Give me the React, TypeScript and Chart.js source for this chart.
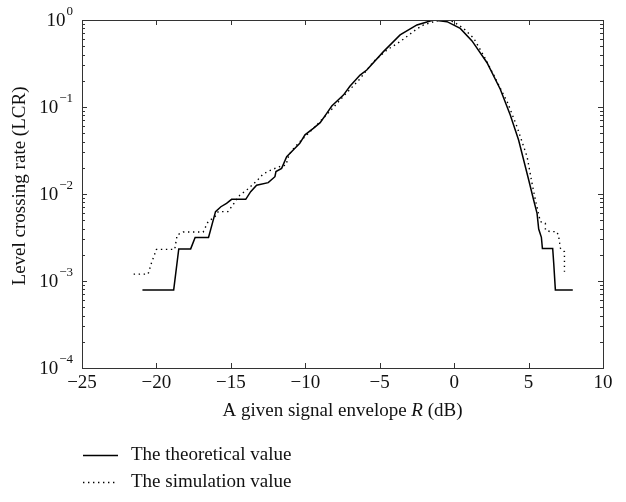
import React, { useEffect, useRef } from "react";
import { Chart, registerables } from "chart.js";

Chart.register(...registerables);

// Theoretical value (solid)
const theoX = [-20.94, -18.84, -18.5, -17.7, -17.4, -16.5, -16.03, -15.67, -15.29, -14.95, -14.0, -13.67, -13.27, -12.49, -12.04, -11.97, -11.59, -11.25, -10.81, -10.37, -10.02, -9.46, -9.0, -8.56, -8.22, -7.44, -6.99, -6.32, -5.87, -4.75, -3.63, -2.5, -1.39, -0.48, 0.41, 1.2, 2.2, 3.1, 3.77, 4.33, 4.67, 5.01, 5.34, 5.57, 5.68, 5.86, 5.93, 6.62, 6.69, 6.8, 7.97];
const theoY = [0.00079, 0.00079, 0.00234, 0.00234, 0.00316, 0.00316, 0.00627, 0.00714, 0.00782, 0.00869, 0.00869, 0.01064, 0.0126, 0.0135, 0.0158, 0.0181, 0.0197, 0.0269, 0.0321, 0.0382, 0.0479, 0.0569, 0.066, 0.0845, 0.1026, 0.137, 0.174, 0.233, 0.266, 0.433, 0.673, 0.877, 1.0, 0.957, 0.8, 0.575, 0.325, 0.16, 0.081, 0.0418, 0.0246, 0.0145, 0.00853, 0.006, 0.00396, 0.00318, 0.00236, 0.00236, 0.0016, 0.00079, 0.00079];

// Simulation value (dotted)
const simX = [-21.53, -20.56, -20.34, -20.0, -18.77, -18.61, -18.2, -16.86, -16.53, -16.07, -15.85, -15.2, -14.95, -14.39, -13.94, -13.27, -12.83, -12.38, -11.82, -11.3, -11.1, -10.69, -10.13, -9.23, -8.3, -7.4, -6.4, -5.42, -4.52, -3.63, -2.5, -2.06, -1.2, -0.6, -0.04, 0.63, 1.31, 1.98, 2.65, 3.32, 3.55, 4.22, 4.9, 5.23, 5.46, 5.79, 6.13, 6.13, 6.46, 6.91, 7.02, 7.14, 7.41, 7.41];
const simY = [0.0012, 0.0012, 0.0016, 0.00231, 0.00231, 0.00338, 0.00366, 0.00366, 0.00481, 0.00548, 0.00627, 0.00627, 0.00714, 0.00975, 0.0111, 0.0141, 0.017, 0.0186, 0.0204, 0.0215, 0.0282, 0.035, 0.0437, 0.0621, 0.0912, 0.135, 0.204, 0.332, 0.452, 0.564, 0.79, 0.877, 0.977, 1.0, 0.957, 0.8, 0.62, 0.39, 0.235, 0.138, 0.117, 0.0594, 0.0269, 0.0133, 0.00853, 0.00481, 0.0046, 0.00385, 0.00369, 0.00369, 0.00324, 0.00238, 0.00217, 0.00128];

const xTicks = [-25, -20, -15, -10, -5, 0, 5, 10];
const yDecades = [0, -1, -2, -3, -4];
const seriesNames = ["The theoretical value", "The simulation value"];
const xTitleParts = ["A given signal envelope ", "R", " (dB)"];
const yTitle = "Level crossing rate (LCR)";

const FONT = '"Liberation Serif", "DejaVu Serif", serif';
const FS = 19;

const axesPlugin = {
  id: "matlabAxes",
  afterDraw(chart: any) {
    const ctx = chart.ctx as CanvasRenderingContext2D;
    const { left, right, top, bottom } = chart.chartArea;
    const xs = chart.scales.x;
    const ys = chart.scales.y;
    ctx.save();
    ctx.strokeStyle = "#333";
    ctx.lineWidth = 1;
    ctx.strokeRect(left + 0.5, top + 0.5, right - left, bottom - top);

    // x ticks
    ctx.beginPath();
    for (const t of xTicks) {
      const px = Math.round(xs.getPixelForValue(t)) + 0.5;
      ctx.moveTo(px, bottom);
      ctx.lineTo(px, bottom - 5);
      ctx.moveTo(px, top);
      ctx.lineTo(px, top + 5);
    }
    // y ticks
    for (const d of yDecades) {
      for (let m = 1; m <= 9; m++) {
        if (d === 0 && m > 1) continue;
        const v = m * Math.pow(10, d);
        const py = Math.round(ys.getPixelForValue(v)) + 0.5;
        const len = m === 1 ? 5 : 3;
        ctx.moveTo(left, py);
        ctx.lineTo(left + len, py);
        ctx.moveTo(right, py);
        ctx.lineTo(right - len, py);
      }
    }
    ctx.stroke();

    // x tick labels
    ctx.fillStyle = "#111";
    ctx.font = `${FS}px ${FONT}`;
    ctx.textAlign = "center";
    ctx.textBaseline = "middle";
    for (const t of xTicks) {
      const label = t < 0 ? "\u2212" + Math.abs(t) : String(t);
      ctx.fillText(label, xs.getPixelForValue(t), bottom + 15);
    }

    // y tick labels 10^d
    for (const d of yDecades) {
      const py = ys.getPixelForValue(Math.pow(10, d));
      const exp = d < 0 ? "\u2212" + Math.abs(d) : String(d);
      ctx.font = `13px ${FONT}`;
      const ew = ctx.measureText(exp).width;
      const ex = left - 9 - ew;
      ctx.textAlign = "left";
      ctx.textBaseline = "middle";
      ctx.fillText(exp, ex, py - 8);
      ctx.font = `${FS}px ${FONT}`;
      ctx.textAlign = "right";
      ctx.fillText("10", ex - 1, py + 1);
    }

    // x title with italic R
    ctx.font = `${FS}px ${FONT}`;
    const w0 = ctx.measureText(xTitleParts[0]).width;
    const w2 = ctx.measureText(xTitleParts[2]).width;
    ctx.font = `italic ${FS}px ${FONT}`;
    const w1 = ctx.measureText(xTitleParts[1]).width;
    const total = w0 + w1 + w2;
    let cx = (left + right) / 2 - total / 2;
    const ty = bottom + 43;
    ctx.textAlign = "left";
    ctx.textBaseline = "middle";
    ctx.font = `${FS}px ${FONT}`;
    ctx.fillText(xTitleParts[0], cx, ty);
    cx += w0;
    ctx.font = `italic ${FS}px ${FONT}`;
    ctx.fillText(xTitleParts[1], cx, ty);
    cx += w1;
    ctx.font = `${FS}px ${FONT}`;
    ctx.fillText(xTitleParts[2], cx, ty);

    // y title
    ctx.save();
    ctx.translate(20, (top + bottom) / 2 - 8);
    ctx.rotate(-Math.PI / 2);
    ctx.textAlign = "center";
    ctx.textBaseline = "middle";
    ctx.font = `${FS}px ${FONT}`;
    ctx.fillText(yTitle, 0, 0);
    ctx.restore();

    // legend
    const ly = [455, 482];
    chart.data.datasets.forEach((ds: any, i: number) => {
      ctx.save();
      ctx.strokeStyle = "#000";
      ctx.lineWidth = ds.borderWidth;
      ctx.setLineDash(ds.borderDash || []);
      ctx.beginPath();
      ctx.moveTo(83, ly[i] + 0.5);
      ctx.lineTo(118, ly[i] + 0.5);
      ctx.stroke();
      ctx.restore();
      ctx.font = `${FS}px ${FONT}`;
      ctx.textAlign = "left";
      ctx.textBaseline = "middle";
      ctx.fillStyle = "#111";
      ctx.fillText(ds.label, 131, ly[i]);
    });
    ctx.restore();
  },
};

export default function App() {
  const ref = useRef<HTMLCanvasElement | null>(null);
  useEffect(() => {
    document.body.style.margin = "0";
    if (!ref.current) return;
    const chart = new Chart(ref.current, {
      type: "line",
      data: {
        datasets: [
          {
            label: seriesNames[0],
            data: theoX.map((x, i) => ({ x, y: theoY[i] })),
            borderColor: "#000",
            borderWidth: 1.5,
            pointRadius: 0,
            tension: 0,
            fill: false,
          },
          {
            label: seriesNames[1],
            data: simX.map((x, i) => ({ x, y: simY[i] })),
            borderColor: "#000",
            borderWidth: 1.4,
            borderDash: [1.4, 3.6],
            pointRadius: 0,
            tension: 0,
            fill: false,
          },
        ],
      },
      options: {
        animation: false,
        responsive: false,
        devicePixelRatio: 1,
        layout: { padding: { left: 82, top: 20, right: 23, bottom: 134 } },
        plugins: { legend: { display: false }, tooltip: { enabled: false } },
        scales: {
          x: { type: "linear", min: -25, max: 10, display: false },
          y: { type: "logarithmic", min: 1e-4, max: 1, display: false },
        },
      },
      plugins: [axesPlugin],
    });
    return () => chart.destroy();
  }, []);
  return <canvas ref={ref} width={626} height={502} style={{ display: "block" }} />;
}
